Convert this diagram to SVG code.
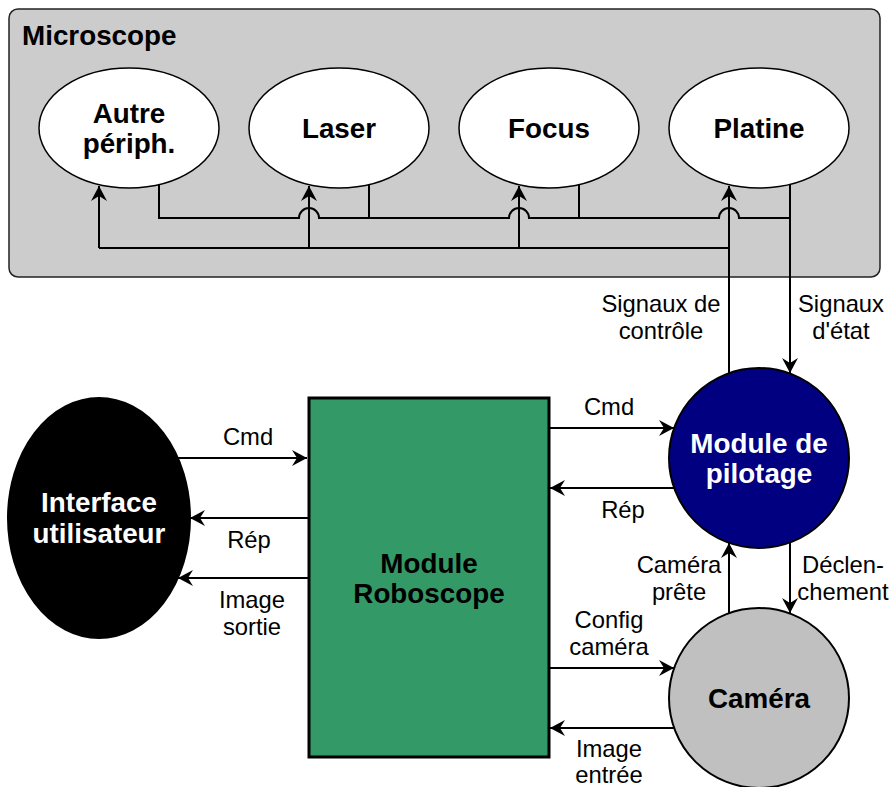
<svg xmlns="http://www.w3.org/2000/svg" width="891" height="787" viewBox="0 0 891 787">
<style>
text{font-family:"Liberation Sans",Arial,Helvetica,sans-serif;text-anchor:middle}
.b{font-weight:bold;font-size:27.8px}
.n{font-size:23.8px}
.w{fill:#ffffff}
.ln{fill:none;stroke:#000;stroke-width:2}
.ar{marker-end:url(#arr)}
.ell{fill:#ffffff;stroke:#000;stroke-width:1.5}
</style>
<defs>
<marker id="arr" markerUnits="userSpaceOnUse" viewBox="-16 -9 17 18" markerWidth="17" markerHeight="18" refX="0" refY="0" orient="auto">
<path d="M0,0 L-15,-8 L-10,0 L-15,8 Z" fill="#000"/>
</marker>
</defs>
<g id="microscope">
<rect x="9" y="9" width="871" height="268" rx="9" fill="#cccccc" stroke="#222" stroke-width="1.5"/>
<text class="b" x="22" y="45" style="text-anchor:start">Microscope</text>
</g>
<g id="autre"><ellipse class="ell" cx="129" cy="128" rx="90" ry="60"/><text class="b" x="129" y="123">Autre</text><text class="b" x="129" y="153">périph.</text></g>
<g id="laser"><ellipse class="ell" cx="339" cy="128" rx="90" ry="60"/><text class="b" x="339" y="138">Laser</text></g>
<g id="focus"><ellipse class="ell" cx="549" cy="128" rx="90" ry="60"/><text class="b" x="549" y="138">Focus</text></g>
<g id="platine"><ellipse class="ell" cx="759" cy="128" rx="90" ry="60"/><text class="b" x="759" y="138">Platine</text></g>
<g id="interface"><ellipse cx="99" cy="518" rx="91" ry="120" fill="#000" stroke="#000" stroke-width="2"/><text class="b w" x="99" y="512">Interface</text><text class="b w" x="99" y="543">utilisateur</text></g>
<g id="roboscope"><rect x="309" y="398" width="240" height="359" fill="#339966" stroke="#000" stroke-width="3"/><text class="b" x="429" y="573">Module</text><text class="b" x="429" y="603">Roboscope</text></g>
<g id="pilotage"><circle cx="759" cy="458" r="90" fill="#000080" stroke="#000" stroke-width="2"/><text class="b w" x="759" y="453">Module de</text><text class="b w" x="759" y="483">pilotage</text></g>
<g id="camera"><circle cx="759" cy="698" r="90" fill="#c0c0c0" stroke="#000" stroke-width="2"/><text class="b" x="759" y="708">Caméra</text></g>
<g id="connectors">
<path class="ln" d="M159,185 L159,218 L299,218 A10,10 0 0 1 319,218 L509,218 A10,10 0 0 1 529,218 L719,218 A10,10 0 0 1 739,218 L790,218"/>
<path class="ln" d="M369,185 L369,218 M579,185 L579,218"/>
<path class="ln ar" d="M790,185 L790,373"/>
<path class="ln ar" d="M729,373 L729,186"/>
<path class="ln" d="M729,248 L99,248"/>
<path class="ln ar" d="M99,248 L99,186"/>
<path class="ln ar" d="M309,248 L309,186"/>
<path class="ln ar" d="M519,248 L519,186"/>
<path class="ln ar" d="M549,428 L674,428"/>
<path class="ln ar" d="M674,488 L550,488"/>
<path class="ln ar" d="M549,668 L674,668"/>
<path class="ln ar" d="M674,728 L550,728"/>
<path class="ln ar" d="M729,613 L729,543"/>
<path class="ln ar" d="M790,543 L790,613"/>
<path class="ln ar" d="M178,458 L307,458"/>
<path class="ln ar" d="M308,518 L190,518"/>
<path class="ln ar" d="M308,578 L178,578"/>
<text class="n" x="661" y="312">Signaux de</text><text class="n" x="661" y="339">contrôle</text>
<text class="n" x="841" y="312">Signaux</text><text class="n" x="841" y="339">d'état</text>
<text class="n" x="609" y="415">Cmd</text>
<text class="n" x="623" y="518">Rép</text>
<text class="n" x="679" y="573">Caméra</text><text class="n" x="679" y="600">prête</text>
<text class="n" x="843" y="573">Déclen-</text><text class="n" x="843" y="600">chement</text>
<text class="n" x="609" y="628">Config</text><text class="n" x="609" y="655">caméra</text>
<text class="n" x="609" y="757">Image</text><text class="n" x="609" y="783">entrée</text>
<text class="n" x="248" y="445">Cmd</text>
<text class="n" x="249" y="548">Rép</text>
<text class="n" x="252" y="608">Image</text><text class="n" x="252" y="635">sortie</text>
</g>
</svg>
